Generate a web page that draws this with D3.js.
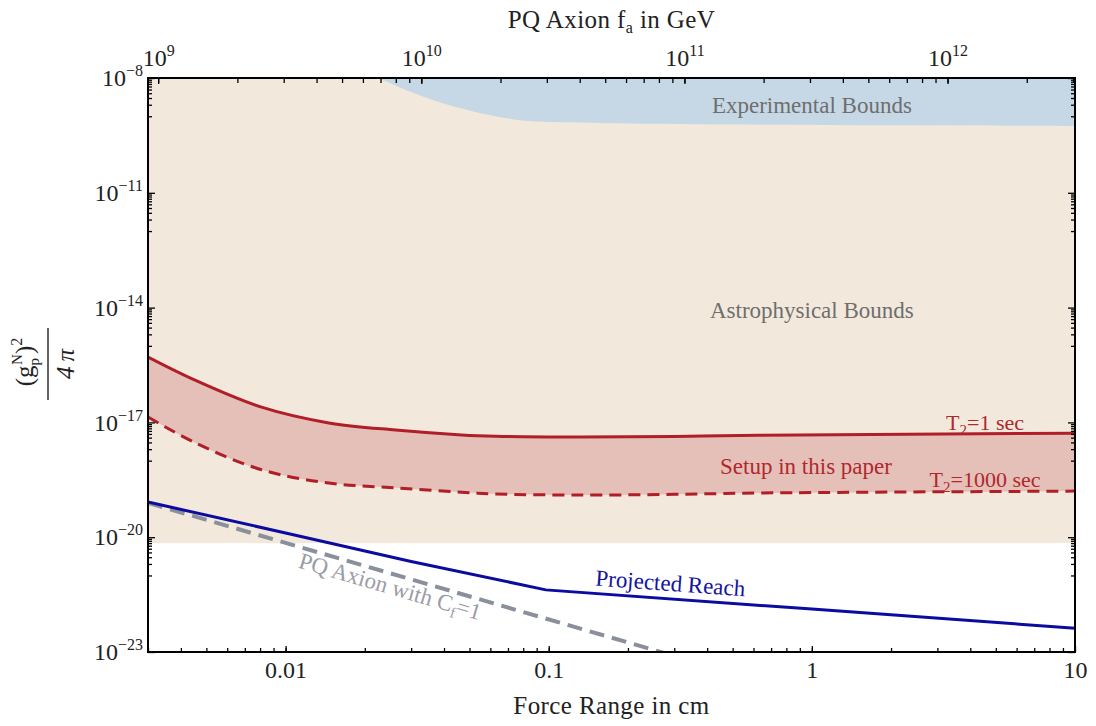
<!DOCTYPE html>
<html>
<head>
<meta charset="utf-8">
<script src="https://cdn.jsdelivr.net/npm/d3@7"></script>
<style>
  body { margin: 0; background: #fff; }
  svg text { font-family: "Liberation Serif", "DejaVu Serif", serif; }
</style>
</head>
<body>
<svg width="1096" height="726"></svg>
<script>
var width = 1096;
var height = 726;
var margin = { top: 78, right: 21, bottom: 74, left: 148 };

// axes ranges
var lambdaRange = [0.003, 10];          // force range in cm
var couplingRange = [1e-23, 1e-8];      // (g_p^N)^2 / 4pi
var faPerCm = 3.05e11;                  // f_a in GeV for a 1 cm force range

// tick labels
var xMajor = [0.01, 0.1, 1, 10];
var xMajorLabels = ['0.01', '0.1', '1', '10'];
var yMajorExp = [-8, -11, -14, -17, -20, -23];
var faMajorExp = [9, 10, 11, 12];

// experimental bounds (upper blue region), lower edge
var expLambda = [0.0225, 0.03, 0.0417, 0.0646, 0.084, 0.155, 0.5, 2, 10];
var expValue = [1e-8, 4.3e-9, 1.97e-9, 9.6e-10, 7.5e-10, 6.7e-10, 6.1e-10, 5.8e-10, 5.6e-10];

// astrophysical bounds: everything above this
var astroFloor = 7e-21;

// setup in this paper
var setupLambda = [0.003, 0.00455, 0.0081, 0.0146, 0.0262, 0.0467, 0.063, 0.13, 0.3, 0.63, 10];
var t2OneSec = [5.1e-16, 1.25e-16, 2.5e-17, 9.7e-18, 6.3e-18, 4.7e-18, 4.35e-18, 4.15e-18, 4.3e-18, 4.6e-18, 5.2e-18];
var t2Thousand = [1.38e-17, 2.9e-18, 5.8e-19, 2.6e-19, 1.95e-19, 1.5e-19, 1.35e-19, 1.26e-19, 1.32e-19, 1.43e-19, 1.6e-19];

// projected reach
var reachLambda = [0.003, 0.01, 0.03, 0.0975, 1, 10];
var reachValue = [8.3e-20, 1.29e-20, 2.32e-21, 4.2e-22, 1.32e-22, 4.2e-23];

// PQ axion with C_f = 1
var pqLambda = [0.003, 0.3];
var pqValue = [7.9e-20, 7.9e-24];

var svg = d3.select('svg');

// Setup scales ------------------------------------------------------------
var xScale = d3.scaleLog()
  .domain(lambdaRange)
  .range([margin.left, width - margin.right]);
var yScale = d3.scaleLog()
  .domain(couplingRange)
  .range([height - margin.bottom, margin.top]);
var faScale = d3.scaleLog()
  .domain(lambdaRange.map(l => l * faPerCm))
  .range([margin.left, width - margin.right]);

var plotW = width - margin.left - margin.right;
var plotH = height - margin.top - margin.bottom;

svg.append('clipPath').attr('id', 'plot')
  .append('rect')
  .attr('x', margin.left).attr('y', margin.top)
  .attr('width', plotW).attr('height', plotH);

var plot = svg.append('g').attr('clip-path', 'url(#plot)');

// astrophysical region
plot.append('rect')
  .attr('x', margin.left)
  .attr('y', margin.top)
  .attr('width', plotW)
  .attr('height', yScale(astroFloor) - margin.top)
  .attr('fill', '#f2e9dc');

var smooth = d3.curveCatmullRom.alpha(0.5);

// experimental region
var expArea = d3.area()
  .x((d, i) => xScale(expLambda[i]))
  .y0(yScale(couplingRange[1]))
  .y1((d, i) => yScale(expValue[i]))
  .curve(smooth);
plot.append('path')
  .attr('d', expArea(expLambda))
  .attr('fill', '#c6d8e6');

// band between T2 curves
var band = d3.area()
  .x((d, i) => xScale(setupLambda[i]))
  .y0((d, i) => yScale(t2Thousand[i]))
  .y1((d, i) => yScale(t2OneSec[i]))
  .curve(smooth);
plot.append('path')
  .attr('d', band(setupLambda))
  .attr('fill', '#e5c0b8');

function lineOf(xs, ys, curve) {
  return d3.line()
    .x((d, i) => xScale(xs[i]))
    .y((d, i) => yScale(ys[i]))
    .curve(curve)(xs);
}

plot.append('path')
  .attr('d', lineOf(setupLambda, t2OneSec, smooth))
  .attr('fill', 'none')
  .attr('stroke', '#b01e28')
  .attr('stroke-width', 3);

plot.append('path')
  .attr('d', lineOf(setupLambda, t2Thousand, smooth))
  .attr('fill', 'none')
  .attr('stroke', '#b01e28')
  .attr('stroke-width', 3)
  .attr('stroke-dasharray', '12,7');

plot.append('path')
  .attr('d', lineOf(pqLambda, pqValue, d3.curveLinear))
  .attr('fill', 'none')
  .attr('stroke', '#8a8f9c')
  .attr('stroke-width', 4)
  .attr('stroke-dasharray', '15,8');

plot.append('path')
  .attr('d', lineOf(reachLambda, reachValue, d3.curveLinear))
  .attr('fill', 'none')
  .attr('stroke', '#0b0ba0')
  .attr('stroke-width', 3);

// region / curve labels ----------------------------------------------------
function label(lx, ly, color, size) {
  return svg.append('text')
    .attr('x', xScale(lx))
    .attr('y', yScale(ly))
    .attr('dy', '0.35em')
    .attr('text-anchor', 'middle')
    .attr('fill', color)
    .attr('font-size', size);
}

label(1, 2e-9, '#6e6e6e', 23).text('Experimental Bounds');
label(1, 8.7e-15, '#6e6e6e', 23).text('Astrophysical Bounds');
label(0.95, 7.2e-19, '#b0282e', 23).text('Setup in this paper');

var t1 = label(4.55, 1.0e-17, '#b0282e', 22);
t1.append('tspan').text('T');
t1.append('tspan').attr('dy', 5).attr('font-size', 15).text('2');
t1.append('tspan').attr('dy', -5).text('=1 sec');

var t2 = label(4.55, 3.2e-19, '#b0282e', 22);
t2.append('tspan').text('T');
t2.append('tspan').attr('dy', 5).attr('font-size', 15).text('2');
t2.append('tspan').attr('dy', -5).text('=1000 sec');

// rotated labels follow their lines
function angleOf(xs, ys, i, j) {
  var dx = xScale(xs[j]) - xScale(xs[i]);
  var dy = yScale(ys[j]) - yScale(ys[i]);
  return Math.atan2(dy, dx) * 180 / Math.PI;
}

var reachAngle = angleOf(reachLambda, reachValue, 3, 5);
var rx = xScale(0.29), ry = yScale(6.4e-22);
svg.append('text')
  .attr('transform', 'translate(' + [rx, ry] + ') rotate(' + reachAngle + ')')
  .attr('dy', '0.35em')
  .attr('text-anchor', 'middle')
  .attr('fill', '#1414a0')
  .attr('font-size', 23)
  .text('Projected Reach');

var pqAngle = angleOf(pqLambda, pqValue, 0, 1);
var px = xScale(0.025), py = yScale(5.3e-22);
var pqText = svg.append('text')
  .attr('transform', 'translate(' + [px, py] + ') rotate(' + pqAngle + ')')
  .attr('dy', '0.35em')
  .attr('text-anchor', 'middle')
  .attr('fill', '#9a9ca6')
  .attr('font-size', 23);
pqText.append('tspan').text('PQ Axion with C');
pqText.append('tspan').attr('dy', 5).attr('font-size', 15).text('f');
pqText.append('tspan').attr('dy', -5).text('=1');

// Define Axes --------------------------------------------------------------
function minorTicks(exps, lo, hi) {
  var out = [];
  exps.forEach(n => {
    for (var k = 1; k <= 9; k++) {
      var v = k * Math.pow(10, n);
      if (v >= lo && v <= hi) out.push(v);
    }
  });
  return out;
}

function supText(sel, base, exp) {
  sel.each(function (d) {
    var t = d3.select(this).text(null);
    t.append('tspan').text(base);
    t.append('tspan').attr('dy', -10).attr('font-size', 16).text(exp(d));
  });
}

function clean(g) {
  g.select('.domain').remove();
  g.selectAll('line').attr('stroke', '#000').attr('stroke-width', 1.3);
  g.selectAll('text')
    .attr('font-family', '"Liberation Serif", serif')
    .attr('font-size', 24)
    .attr('fill', '#222');
}

var xMinor = minorTicks([-3, -2, -1, 0], lambdaRange[0], lambdaRange[1]);
var yMinor = minorTicks(yMajorExp.map(n => n - 1), couplingRange[0], couplingRange[1]);
var faDomain = faScale.domain();
var faMinor = minorTicks([8, 9, 10, 11, 12], faDomain[0], faDomain[1]);

// bottom
svg.append('g')
  .attr('transform', 'translate(0,' + (height - margin.bottom) + ')')
  .call(d3.axisBottom(xScale).tickValues(xMinor).tickSize(-4).tickFormat(''))
  .call(clean);
svg.append('g')
  .attr('transform', 'translate(0,' + (height - margin.bottom) + ')')
  .call(d3.axisBottom(xScale).tickValues(xMajor).tickSize(-6).tickPadding(9)
    .tickFormat((d, i) => xMajorLabels[i]))
  .call(clean);

// top
svg.append('g')
  .attr('transform', 'translate(0,' + margin.top + ')')
  .call(d3.axisTop(faScale).tickValues(faMinor).tickSize(-5).tickFormat(''))
  .call(clean);
var topAxis = svg.append('g')
  .attr('transform', 'translate(0,' + margin.top + ')')
  .call(d3.axisTop(faScale).tickValues(faMajorExp.map(n => Math.pow(10, n))).tickSize(-6).tickPadding(12))
  .call(clean);
topAxis.selectAll('text').call(supText, '10', d => String(Math.round(Math.log10(d))));

// left
svg.append('g')
  .attr('transform', 'translate(' + margin.left + ',0)')
  .call(d3.axisLeft(yScale).tickValues(yMinor).tickSize(-4).tickFormat(''))
  .call(clean);
var leftAxis = svg.append('g')
  .attr('transform', 'translate(' + margin.left + ',0)')
  .call(d3.axisLeft(yScale).tickValues(yMajorExp.map(n => Math.pow(10, n))).tickSize(-7).tickPadding(5))
  .call(clean);
leftAxis.selectAll('text').call(supText, '10', d => '\u2212' + Math.abs(Math.round(Math.log10(d))));

// right
svg.append('g')
  .attr('transform', 'translate(' + (width - margin.right) + ',0)')
  .call(d3.axisRight(yScale).tickValues(yMinor).tickSize(-4).tickFormat(''))
  .call(clean);
svg.append('g')
  .attr('transform', 'translate(' + (width - margin.right) + ',0)')
  .call(d3.axisRight(yScale).tickValues(yMajorExp.map(n => Math.pow(10, n))).tickSize(-7).tickFormat(''))
  .call(clean);

// frame
svg.append('rect')
  .attr('x', margin.left).attr('y', margin.top)
  .attr('width', plotW).attr('height', plotH)
  .attr('fill', 'none')
  .attr('stroke', '#000')
  .attr('stroke-width', 2);

// axis titles
var topTitle = svg.append('text')
  .attr('x', margin.left + plotW / 2)
  .attr('y', 28)
  .attr('text-anchor', 'middle')
  .attr('font-size', 25)
  .attr('letter-spacing', 0.4)
  .attr('fill', '#222');
topTitle.append('tspan').text('PQ Axion  f');
topTitle.append('tspan').attr('dy', 5).attr('font-size', 16).text('a');
topTitle.append('tspan').attr('dy', -5).text(' in GeV');

svg.append('text')
  .attr('x', margin.left + plotW / 2)
  .attr('y', 714)
  .attr('text-anchor', 'middle')
  .attr('font-size', 25)
  .attr('letter-spacing', 0.4)
  .attr('fill', '#222')
  .text('Force Range in cm');

// y title: (g_p^N)^2 / 4 pi, rotated
var yTitle = svg.append('g').attr('transform', 'translate(48,364) rotate(-90)');
var num = yTitle.append('text')
  .attr('x', 2).attr('y', -15)
  .attr('text-anchor', 'middle')
  .attr('font-size', 25)
  .attr('fill', '#222');
num.append('tspan').text('(g');
num.append('tspan').attr('dy', 6).attr('font-size', 15).text('p');
num.append('tspan').attr('dx', -7).attr('dy', -17).attr('font-size', 15).text('N');
num.append('tspan').attr('dy', 11).text(')');
num.append('tspan').attr('dy', -11).attr('font-size', 16).text('2');
yTitle.append('line')
  .attr('x1', -36).attr('x2', 36)
  .attr('y1', 0).attr('y2', 0)
  .attr('stroke', '#222').attr('stroke-width', 1.4);
yTitle.append('text')
  .attr('x', 0).attr('y', 26)
  .attr('text-anchor', 'middle')
  .attr('font-size', 25)
  .attr('font-style', 'italic')
  .attr('fill', '#222')
  .text('4\u2009\u03c0');
</script>
</body>
</html>
